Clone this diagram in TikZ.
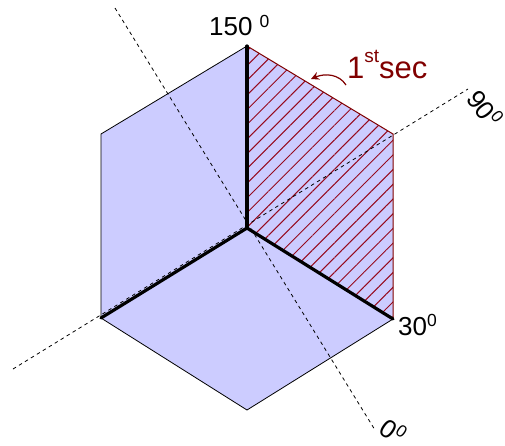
\documentclass[tikz,border=0pt]{standalone}
\usepackage{fontspec}
\setmainfont{Liberation Sans}
\usepackage{xcolor}
\usetikzlibrary{patterns.meta, arrows.meta}
\definecolor{sectorblue}{RGB}{204, 204, 255}
\definecolor{sectorred}{RGB}{128, 0, 0}
\definecolor{hatchred}{RGB}{150, 10, 30}
\tikzset{
    axisline/.style={black, line width=0.8pt, dash pattern=on 3.5pt off 3.5pt},
    spoke/.style={black, line width=3.2pt, line cap=round},
    anglelabel/.style={inner sep=0pt, font=\fontsize{26}{26}\selectfont}
}

\begin{document}
\begin{tikzpicture}[x=1pt, y=-1pt]
    \useasboundingbox (0,0) rectangle (505,445);
    % Hexagon corners
    \coordinate (O) at (247,228);
    \coordinate (T) at (247,46);
    \coordinate (UR) at (393,134);
    \coordinate (LR) at (393,319);
    \coordinate (B) at (247,410);
    \coordinate (LL) at (101,318);
    \coordinate (UL) at (101,134);
    % Axis ends
    \coordinate (A0a) at (115,8);
    \coordinate (A0b) at (375,430);
    \coordinate (A90a) at (13,369);
    \coordinate (A90b) at (468,89);
    % Hexagon body
    \fill[sectorblue] (T) -- (UR) -- (LR) -- (B) -- (LL) -- (UL) -- cycle;
    % First sector
    \fill[pattern={Lines[angle=45, distance=10.4pt, line width=1pt]}, pattern color=hatchred]
        (O) -- (T) -- (UR) -- (LR) -- cycle;
    \draw[black, line width=0.8pt] (T) -- (UL) -- (LL) -- (B) -- (LR);
    \draw[sectorred, line width=1pt] (O) -- (T) -- (UR) -- (LR) -- cycle;
    % Axes
    \draw[axisline] (A0a) -- (A0b);
    \draw[axisline] (A90a) -- (A90b);
    % Spokes
    \draw[spoke] (O) -- (T);
    \draw[spoke] (O) -- (LR);
    \draw[spoke] (O) -- (LL);
    % Rotation arrow
    \coordinate (arrowfrom) at (346,85);
    \coordinate (arrowto) at (311,79);
    \draw[sectorred, line width=1.2pt, -{Stealth[length=8pt, width=8pt]}]
        (arrowfrom) .. controls (339,74) and (325,73) .. (arrowto);
    % Labels
    \node[anglelabel, anchor=base west] (lab150) at (209,35) {150\hspace{7pt}\raisebox{8pt}{\fontsize{17.5}{17.5}\selectfont 0}};
    \node[anglelabel, anchor=base west] (lab30) at (398,335) {30\raisebox{9pt}{\fontsize{17.5}{17.5}\selectfont 0}};
    \node[anglelabel, rotate=-52] (lab90) at (485,108) {90\raisebox{9pt}{\fontsize{17}{17}\selectfont 0}};
    \node[anglelabel, rotate=-35] (lab0) at (393,431) {0\raisebox{9pt}{\fontsize{17}{17}\selectfont 0}};
    \node[anglelabel, sectorred, anchor=base west, font=\fontsize{31}{31}\selectfont] (labsec) at (347,78) {1\raisebox{16pt}{\fontsize{19}{19}\selectfont st}sec};
\end{tikzpicture}
\end{document}
